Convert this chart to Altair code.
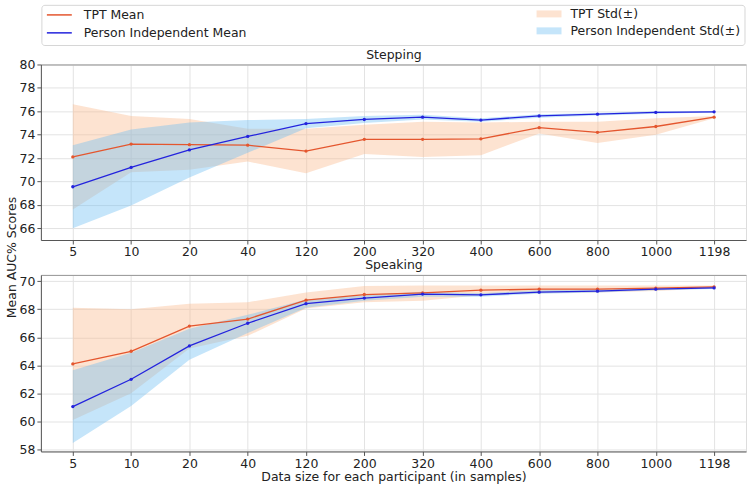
import altair as alt
import pandas as pd

sizes = ["5", "10", "20", "40", "120", "200", "320", "400", "600", "800", "1000", "1198"]
series_mean = ["TPT Mean", "Person Independent Mean"]
series_std = ["TPT Std(±)", "Person Independent Std(±)"]

# Stepping
step_tpt_mean = [72.1, 73.2, 73.15, 73.1, 72.6, 73.6, 73.6, 73.65, 74.6, 74.2, 74.7, 75.5]
step_tpt_lo = [67.6, 70.8, 71.0, 71.7, 70.7, 72.35, 72.1, 72.25, 74.1, 73.3, 74.0, 75.4]
step_tpt_hi = [76.6, 75.6, 75.35, 74.5, 74.5, 74.85, 75.1, 75.05, 75.1, 75.1, 75.4, 75.6]
step_pi_mean = [69.55, 71.2, 72.7, 73.85, 74.95, 75.3, 75.5, 75.25, 75.6, 75.75, 75.9, 75.95]
step_pi_lo = [66.0, 67.95, 70.35, 72.45, 74.55, 75.0, 75.3, 75.1, 75.45, 75.65, 75.8, 75.9]
step_pi_hi = [73.1, 74.45, 75.05, 75.25, 75.35, 75.6, 75.7, 75.4, 75.75, 75.85, 76.0, 76.0]

# Speaking
speak_tpt_mean = [64.1, 65.0, 66.8, 67.3, 68.65, 69.05, 69.17, 69.36, 69.43, 69.43, 69.5, 69.6]
speak_tpt_lo = [60.1, 62.0, 65.2, 66.1, 68.05, 68.5, 68.6, 69.0, 69.15, 69.2, 69.3, 69.5]
speak_tpt_hi = [68.1, 68.0, 68.4, 68.5, 69.2, 69.65, 69.7, 69.7, 69.7, 69.7, 69.7, 69.7]
speak_pi_mean = [61.05, 63.0, 65.38, 67.0, 68.4, 68.8, 69.08, 69.03, 69.22, 69.29, 69.43, 69.52]
speak_pi_lo = [58.45, 61.1, 64.4, 66.3, 68.1, 68.6, 68.9, 68.9, 69.1, 69.2, 69.35, 69.45]
speak_pi_hi = [63.65, 64.9, 66.6, 67.6, 68.7, 69.0, 69.25, 69.15, 69.35, 69.4, 69.5, 69.6]

ORANGE_LINE = "#E4562E"
BLUE_LINE = "#2323DD"
ORANGE_FILL = "#FAB98C"
BLUE_FILL = "#6EBDF2"
FONT = "DejaVu Sans"
TXT = "#222222"

W = 707


def make_df(tm, tl, th, pm, pl, ph):
    rows = []
    for i, s in enumerate(sizes):
        rows.append({"size": s, "mean_s": series_mean[0], "std_s": series_std[0],
                     "mean": tm[i], "lo": tl[i], "hi": th[i], "order": 0})
        rows.append({"size": s, "mean_s": series_mean[1], "std_s": series_std[1],
                     "mean": pm[i], "lo": pl[i], "hi": ph[i], "order": 1})
    return pd.DataFrame(rows)


def panel(df, title, ydom, yvals, height, legend, ytitle, xtitle):
    xscale = alt.Scale(type="point", padding=0.5475)
    yscale = alt.Scale(domain=ydom, nice=False, zero=False)
    x_axis_args = dict(labelAngle=0, grid=True, gridColor="#e3e3e3",
                       domainColor="#555555", tickColor="#555555", tickSize=4,
                       labelPadding=2, labelFontSize=12.5, labelColor=TXT,
                       labelOverlap=False)
    if xtitle:
        x_axis = alt.Axis(title=xtitle, titleFontSize=12.5, titleFontWeight="normal",
                          titlePadding=1, titleColor=TXT, **x_axis_args)
    else:
        x_axis = alt.Axis(title=None, **x_axis_args)
    y_axis_args = dict(values=yvals, grid=True, gridColor="#e3e3e3",
                       domainColor="#555555", tickColor="#555555", tickSize=4,
                       labelPadding=2, labelFontSize=12.5, labelColor=TXT,
                       labelOverlap=False)
    if ytitle:
        y_axis = alt.Axis(title=ytitle, titleFontSize=12.5, titleFontWeight="normal",
                          titleColor=TXT, titleY=-18, titleX=-22, titleAngle=270,
                          titleAlign="center", titleBaseline="bottom", **y_axis_args)
    else:
        y_axis = alt.Axis(title=None, **y_axis_args)

    fill_legend = None
    color_legend = None
    if legend:
        fill_legend = alt.Legend(title=None, orient="none", legendX=501, legendY=-59.2,
                                 symbolType="M-1.47,-0.41H1.47V0.41H-1.47Z", symbolSize=289,
                                 symbolStrokeWidth=0, symbolOpacity=0.4,
                                 labelFontSize=12.5, labelOffset=13, rowPadding=2,
                                 labelLimit=400, labelColor=TXT)
        color_legend = alt.Legend(title=None, orient="none", legendX=9, legendY=-59.2,
                                  symbolType="M-1.47,0H1.47", symbolSize=289,
                                  symbolStrokeWidth=1.5, labelFontSize=12.5,
                                  labelOffset=15, rowPadding=2, labelLimit=400,
                                  labelColor=TXT)

    areas = alt.Chart(df).mark_area(opacity=0.4).encode(
        x=alt.X("size:N", sort=sizes, scale=xscale, axis=x_axis),
        y=alt.Y("lo:Q", scale=yscale, axis=y_axis),
        y2="hi:Q",
        fill=alt.Fill("std_s:N", scale=alt.Scale(domain=series_std, range=[ORANGE_FILL, BLUE_FILL]),
                      legend=fill_legend),
        order=alt.Order("order:Q"),
    )
    lines = alt.Chart(df).mark_line(
        strokeWidth=1.3,
        point=alt.OverlayMarkDef(size=11, filled=True, opacity=1),
    ).encode(
        x=alt.X("size:N", sort=sizes, scale=xscale,
                axis=alt.Axis(orient="top", labels=False, ticks=False, grid=False,
                              domain=True, domainColor="#999999", title=title,
                              titleFontSize=12.5, titleFontWeight="normal",
                              titleColor=TXT, titlePadding=3)),
        y=alt.Y("mean:Q", scale=yscale, axis=y_axis),
        color=alt.Color("mean_s:N", scale=alt.Scale(domain=series_mean, range=[ORANGE_LINE, BLUE_LINE]),
                        legend=color_legend),
    )
    layers = [areas, lines]
    if legend:
        frame = alt.Chart(pd.DataFrame({"k": [0]})).mark_rect(
            fill="white", fillOpacity=0, stroke="#d6d6d6", strokeWidth=1, cornerRadius=3
        ).encode(x=alt.value(1), x2=alt.value(706), y=alt.value(-59.3), y2=alt.value(-19))
        layers = [frame] + layers
    return alt.layer(*layers).resolve_axis(x="independent").properties(
        width=W, height=height,
    )


df_step = make_df(step_tpt_mean, step_tpt_lo, step_tpt_hi, step_pi_mean, step_pi_lo, step_pi_hi)
df_speak = make_df(speak_tpt_mean, speak_tpt_lo, speak_tpt_hi, speak_pi_mean, speak_pi_lo, speak_pi_hi)

top = panel(df_step, "Stepping", [65, 80], [66, 68, 70, 72, 74, 76, 78, 80], 176, True, None, None)
bottom = panel(df_speak, "Speaking", [57.85, 70.45], [58, 60, 62, 64, 66, 68, 70], 177, False,
               "Mean AUC% Scores", "Data size for each participant (in samples)")

chart = alt.vconcat(top, bottom, spacing=35, bounds="flush").resolve_legend(
    color="independent", fill="independent"
).properties(
    padding={"left": 5, "top": 3, "right": 0, "bottom": 0}
).configure_view(stroke=None).configure(font=FONT)

chart.save("out.html", embed_options={"renderer": "svg", "actions": False})
